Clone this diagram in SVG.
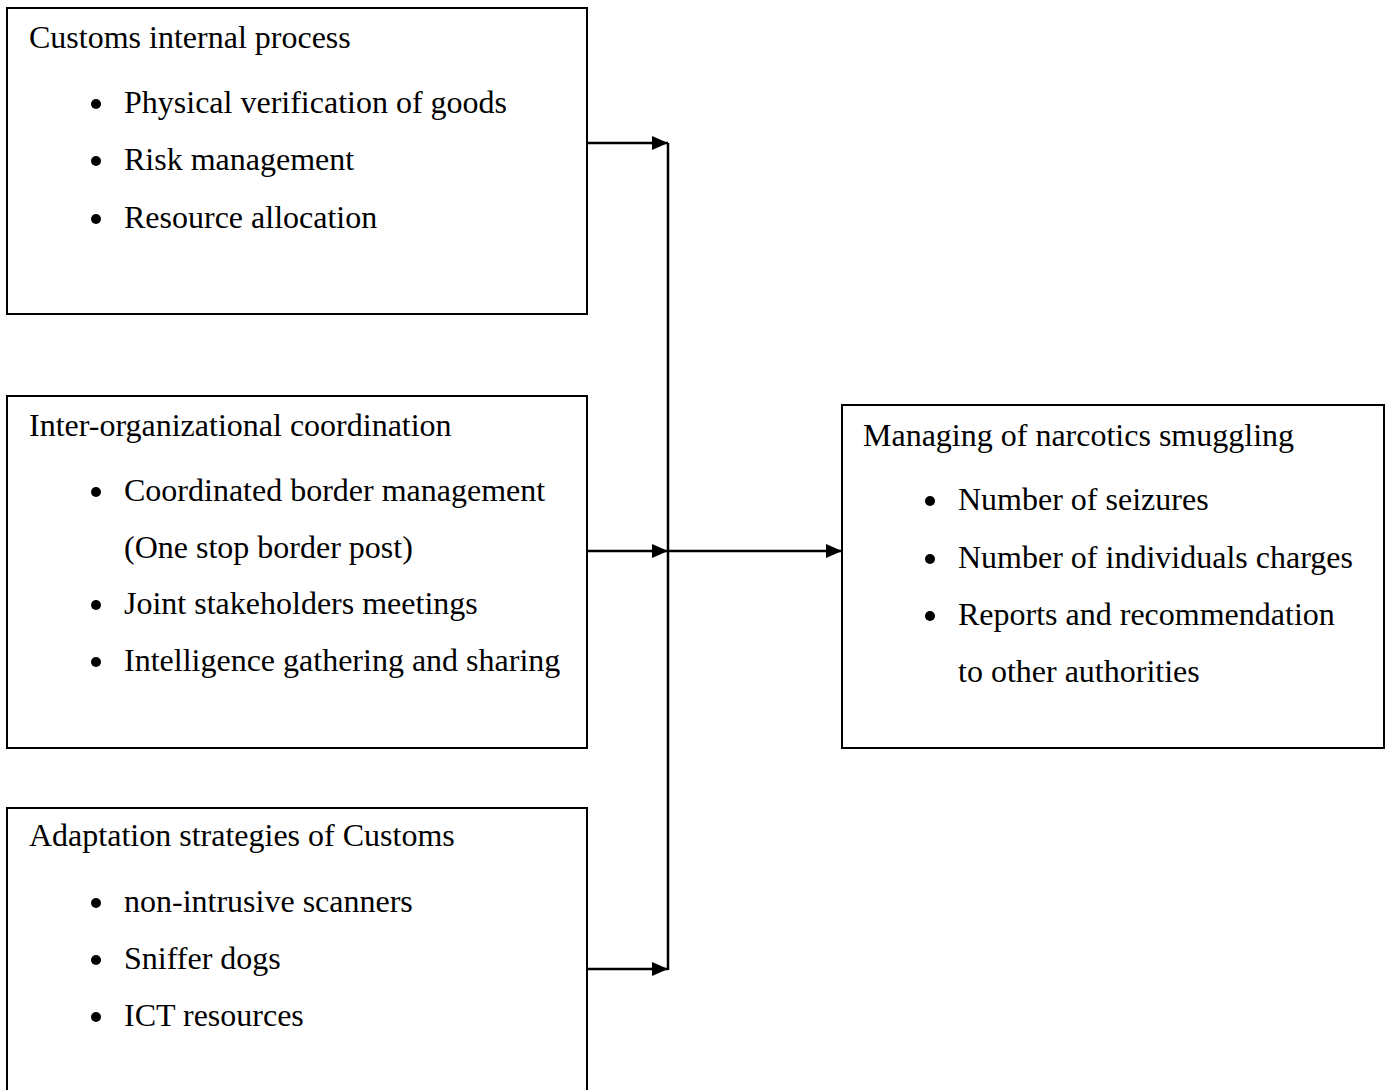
<svg xmlns="http://www.w3.org/2000/svg" width="1390" height="1090" viewBox="0 0 1390 1090">
<defs>
<style>
.box{fill:#fff;stroke:#000;stroke-width:2}
.t{font-family:"Liberation Serif","Times New Roman",serif;font-size:32px;fill:#000}
.b{fill:#000}
.c{stroke:#000;stroke-width:2.5;fill:none}
</style>
<marker id="ah2" markerWidth="16" markerHeight="14" refX="16" refY="7" orient="auto" markerUnits="userSpaceOnUse" viewBox="0 0 16 14">
<path d="M0,0 L16,7 L0,14 Z" fill="#000"/>
</marker>
</defs>
<rect width="1390" height="1090" fill="#fff"/>
<g id="connectors">
<line class="c" x1="668" y1="143" x2="668" y2="970"/>
<line class="c" x1="587" y1="143" x2="668" y2="143" marker-end="url(#ah2)"/>
<line class="c" x1="587" y1="551" x2="668" y2="551" marker-end="url(#ah2)"/>
<line class="c" x1="587" y1="969" x2="668" y2="969" marker-end="url(#ah2)"/>
<line class="c" x1="668" y1="551" x2="842" y2="551" marker-end="url(#ah2)"/>
</g>
<g id="node-internal">
<rect class="box" x="7" y="8" width="580" height="306"/>
<text class="t" x="29" y="48">Customs internal process</text>
<circle class="b" cx="96" cy="104" r="5"/><text class="t" x="124" y="113">Physical verification of goods</text>
<circle class="b" cx="96" cy="161" r="5"/><text class="t" x="124" y="170">Risk management</text>
<circle class="b" cx="96" cy="219" r="5"/><text class="t" x="124" y="228">Resource allocation</text>
</g>
<g id="node-coordination">
<rect class="box" x="7" y="396" width="580" height="352"/>
<text class="t" x="29" y="436">Inter-organizational coordination</text>
<circle class="b" cx="96" cy="492" r="5"/><text class="t" x="124" y="501">Coordinated border management</text>
<text class="t" x="124" y="558">(One stop border post)</text>
<circle class="b" cx="96" cy="605" r="5"/><text class="t" x="124" y="614">Joint stakeholders meetings</text>
<circle class="b" cx="96" cy="662" r="5"/><text class="t" x="124" y="671">Intelligence gathering and sharing</text>
</g>
<g id="node-adaptation">
<path class="box" d="M7,1092 V808 H587 V1092"/>
<text class="t" x="29" y="846">Adaptation strategies of Customs</text>
<circle class="b" cx="96" cy="903" r="5"/><text class="t" x="124" y="912">non-intrusive scanners</text>
<circle class="b" cx="96" cy="960" r="5"/><text class="t" x="124" y="969">Sniffer dogs</text>
<circle class="b" cx="96" cy="1017" r="5"/><text class="t" x="124" y="1026">ICT resources</text>
</g>
<g id="node-outcome">
<rect class="box" x="842" y="405" width="542" height="343"/>
<text class="t" x="863" y="446">Managing of narcotics smuggling</text>
<circle class="b" cx="930" cy="501" r="5"/><text class="t" x="958" y="510">Number of seizures</text>
<circle class="b" cx="930" cy="559" r="5"/><text class="t" x="958" y="568">Number of individuals charges</text>
<circle class="b" cx="930" cy="616" r="5"/><text class="t" x="958" y="625">Reports and recommendation</text>
<text class="t" x="958" y="682">to other authorities</text>
</g>
</svg>
